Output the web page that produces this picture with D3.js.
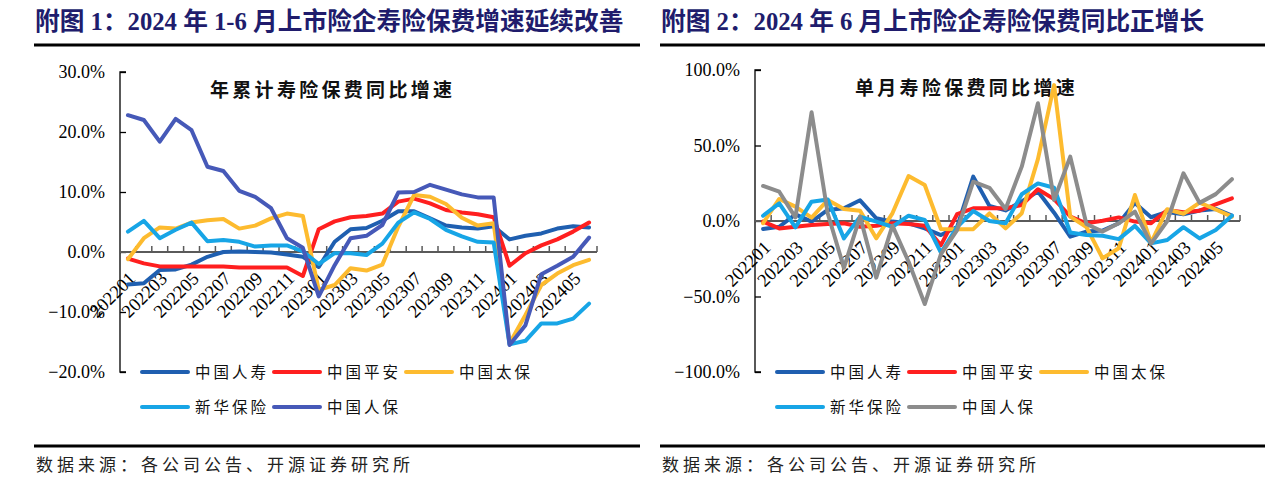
<!DOCTYPE html>
<html><head><meta charset="utf-8">
<script src="https://cdn.jsdelivr.net/npm/d3@7"></script>
<style>
body{margin:0;background:#fff;}
svg{display:block;}
</style></head>
<body>
<svg id="c" width="1283" height="480"></svg>
<script>
const months = ["202201","202202","202203","202204","202205","202206","202207","202208","202209","202210","202211","202212",
"202301","202302","202303","202304","202305","202306","202307","202308","202309","202310","202311","202312",
"202401","202402","202403","202404","202405","202406"];
const seriesNames = ["中国人寿","中国平安","中国太保","新华保险","中国人保"];
const colorsLeft = ["#1f5fb0","#ff1f1f","#fdbb2f","#17a5e6","#4659b8"];
const colorsRight = ["#1f5fb0","#ff1f1f","#fdbb2f","#17a5e6","#8c8c8c"];

// Chart 1: cumulative YoY growth (%)
const cumChinaLife = [-5.4,-5.2,-3.0,-2.9,-2.1,-0.8,0.0,0.1,0.0,-0.1,-0.4,-0.8,-2.5,1.7,3.8,4.0,5.2,6.8,6.8,5.6,4.4,4.1,3.9,4.3,2.1,2.7,3.1,3.9,4.3,4.1];
const cumPingAn = [-1.1,-1.9,-2.4,-2.4,-2.4,-2.4,-2.4,-2.6,-2.6,-2.6,-2.6,-4.0,3.8,5.1,5.8,6.0,6.4,8.4,8.9,8.1,7.0,6.6,6.3,5.8,-2.3,-0.2,1.1,2.1,3.4,4.9];
const cumCPIC = [-1.2,2.3,4.1,3.9,4.9,5.3,5.5,3.9,4.4,5.6,6.4,6.0,-6.3,-5.5,-2.7,-3.1,-2.1,4.2,9.5,9.2,8.0,5.7,4.4,4.8,-15.2,-10.5,-5.5,-3.6,-2.2,-1.3];
const cumNCI = [3.4,5.2,2.3,3.7,4.9,1.8,2.0,1.7,0.9,1.1,1.1,0.1,-2.0,-0.2,-0.2,-0.5,1.4,4.9,6.6,5.5,3.7,2.6,1.7,1.6,-15.4,-14.8,-11.9,-11.9,-11.1,-8.6];
const cumPICC = [22.8,22.0,18.4,22.2,20.3,14.2,13.5,10.2,9.2,7.3,2.3,0.7,-7.4,-2.2,2.3,2.7,4.5,9.9,10.0,11.2,10.4,9.6,9.1,9.1,-15.5,-12.2,-3.7,-2.3,-0.8,2.4];

// Chart 2: single-month YoY growth (%)
const monChinaLife = [-5.3,-3.8,4.4,-0.4,7.3,8.4,13.7,1.8,-0.4,-1.5,-4.9,-9.3,-4.0,29.4,10.0,7.0,13.0,19.5,5.5,-10.4,-7.0,-6.3,-1.5,12.0,2.5,6.0,4.5,7.0,8.0,3.5];
const monPingAn = [-0.4,-4.9,-3.8,-2.6,-2.0,-1.5,-3.8,-3.1,-1.5,-2.0,-3.1,-16.0,4.5,8.4,8.4,8.5,10.5,21.0,14.5,3.0,-1.5,0.2,2.4,-0.4,-1.5,7.3,5.8,6.8,11.0,15.0];
const monCPIC = [-1.5,14.6,9.5,2.2,13.9,7.9,6.8,-11.5,5.1,29.8,23.8,-5.3,-5.4,-5.4,5.0,-4.9,5.1,41.0,90.0,2.9,-4.0,-24.7,-18.0,17.2,-14.3,7.8,4.8,12.2,7.6,2.9];
const monNCI = [3.5,11.7,-4.2,12.8,14.3,-11.5,2.9,-0.4,-3.8,3.5,0.7,-21.0,-4.0,6.6,0.0,-1.5,17.7,24.9,22.0,-7.6,-9.3,-9.8,-12.0,-3.2,-14.8,-12.6,-4.1,-11.5,-6.0,3.5];
const monPICC = [23.2,19.4,2.4,72.0,5.0,-31.0,2.9,-37.5,-3.1,-27.0,-55.0,-22.0,-6.0,26.0,22.0,8.0,36.0,78.0,14.0,42.6,-2.0,-7.0,-1.5,6.2,-15.0,0.0,31.6,12.0,17.8,27.7];

const leftTicks = [30,20,10,0,-10,-20];
const rightTicks = [100,50,0,-50,-100];

const headerLeft = "附图 1：2024 年 1-6 月上市险企寿险保费增速延续改善";
const headerRight = "附图 2：2024 年 6 月上市险企寿险保费同比正增长";
const titleLeft = "年累计寿险保费同比增速";
const titleRight = "单月寿险保费同比增速";
const sourceText = "数据来源：各公司公告、开源证券研究所";

const svg = d3.select("#c");
const serif = "'Liberation Serif','Times New Roman',serif";
const cjk = "'Noto Sans CJK SC','Noto Sans CJK JP',sans-serif";

function panel(opt){
  const g = svg.append("g");
  // header
  g.append("text").attr("x",opt.x0+1).attr("y",30)
    .attr("font-family",serif+","+cjk).attr("font-weight","bold").attr("font-size",24.7)
    .attr("fill","#201c6c").text(opt.header);
  g.append("line").attr("x1",opt.x0).attr("x2",opt.x1).attr("y1",45).attr("y2",45)
    .attr("stroke","#000").attr("stroke-width",3);
  // bottom line + source
  g.append("line").attr("x1",opt.x0).attr("x2",opt.x1).attr("y1",446).attr("y2",446)
    .attr("stroke","#000").attr("stroke-width",3);
  g.append("text").attr("x",opt.x0+2).attr("y",471)
    .attr("font-family",cjk).attr("font-size",17).attr("letter-spacing","4px")
    .attr("fill","#222").text(sourceText);

  const x = d3.scaleBand().domain(months).range([opt.axisX,opt.right]);
  const y = d3.scaleLinear().domain(opt.domain).range([opt.yBottom,opt.yTop]);
  const zeroY = y(0);

  // chart title
  g.append("text").attr("x",opt.titleX).attr("y",opt.titleY)
    .attr("font-family",cjk).attr("font-weight","bold").attr("font-size",19)
    .attr("letter-spacing","3.3px").attr("fill","#111").text(opt.title);

  // y axis
  const yAxis = d3.axisRight(y).tickValues(opt.ticks).tickSize(6).tickFormat("");
  const ya = g.append("g").attr("transform",`translate(${opt.axisX},0)`).call(yAxis);
  ya.select(".domain").attr("stroke","#000").attr("stroke-width",1.3).attr("d",`M6,${opt.yTop}H0V${opt.yBottom}H6`);
  ya.selectAll(".tick line").attr("stroke","#000").attr("stroke-width",1.3);
  g.selectAll(".ylab").data(opt.ticks).enter().append("text")
    .attr("x",opt.axisX-15).attr("y",d=>y(d)).attr("dy","0.35em")
    .attr("text-anchor","end").attr("font-family",serif).attr("font-size",18).attr("fill","#000")
    .text(d=>d3.format(".1f")(d)+"%");

  // zero line with ticks at band boundaries
  g.append("line").attr("x1",opt.axisX).attr("x2",opt.right).attr("y1",zeroY).attr("y2",zeroY)
    .attr("stroke","#5a5a5a").attr("stroke-width",2);
  const bounds = months.map((m)=>x(m)+x.bandwidth());
  g.selectAll(".xt").data(bounds).enter().append("line")
    .attr("x1",d=>d).attr("x2",d=>d).attr("y1",zeroY).attr("y2",zeroY-6)
    .attr("stroke","#5a5a5a").attr("stroke-width",1.5);

  // x labels
  g.selectAll(".xl").data(months.filter((m,i)=>i%2===0)).enter().append("text")
    .attr("transform",d=>`translate(${x(d)+x.bandwidth()/2+4},${zeroY+23}) rotate(-45)`)
    .attr("text-anchor","end").attr("dy","0.35em")
    .attr("font-family",serif).attr("font-size",18.5).attr("fill","#000").text(d=>d);

  // lines
  const line = d3.line().x((d,i)=>x(months[i])+x.bandwidth()/2).y(d=>y(d));
  opt.series.forEach((s,k)=>{
    g.append("path").datum(s).attr("d",line).attr("fill","none")
      .attr("stroke",opt.colors[k]).attr("stroke-width",4)
      .attr("stroke-linejoin","round").attr("stroke-linecap","round");
  });

  // legend
  const lx = opt.axisX+22, pitch = 132;
  seriesNames.forEach((n,k)=>{
    const row = k<3?0:1, col = k<3?k:k-3;
    const yy = row===0?372:407;
    const xx = lx+col*pitch;
    g.append("line").attr("x1",xx).attr("x2",xx+46).attr("y1",yy).attr("y2",yy)
      .attr("stroke",opt.colors[k]).attr("stroke-width",4).attr("stroke-linecap","round");
    g.append("text").attr("x",xx+53).attr("y",yy).attr("dy","0.36em")
      .attr("font-family",cjk).attr("font-size",15.5).attr("letter-spacing","3px")
      .attr("fill","#111").text(n);
  });
}

panel({x0:34,x1:640,header:headerLeft,title:titleLeft,titleX:210,titleY:97,
  axisX:120,right:597,yTop:72,yBottom:372,domain:[-20,30],ticks:leftTicks,
  series:[cumChinaLife,cumPingAn,cumCPIC,cumNCI,cumPICC],colors:colorsLeft});
panel({x0:660,x1:1265,header:headerRight,title:titleRight,titleX:855,titleY:95,
  axisX:755,right:1240,yTop:70,yBottom:372,domain:[-100,100],ticks:rightTicks,
  series:[monChinaLife,monPingAn,monCPIC,monNCI,monPICC],colors:colorsRight});
</script>
</body></html>
